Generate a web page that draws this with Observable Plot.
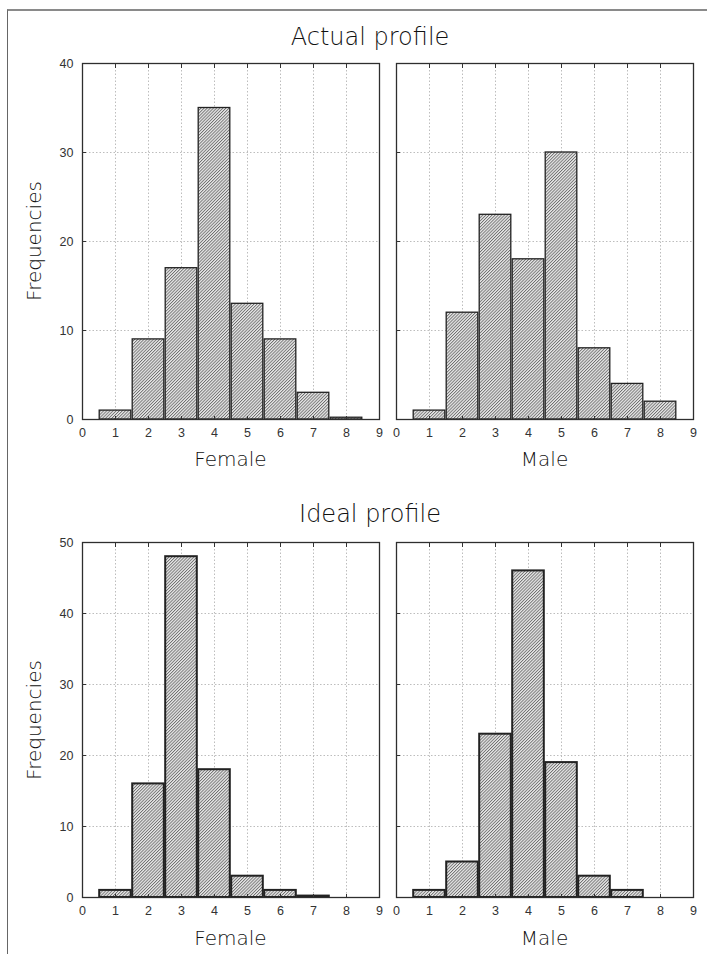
<!DOCTYPE html>
<html><head><meta charset="utf-8">
<script src="https://cdn.jsdelivr.net/npm/d3@7"></script>
<script src="https://cdn.jsdelivr.net/npm/@observablehq/plot@0.6"></script>
<style>
body{margin:0;background:#fff;}
#fig{position:relative;width:707px;height:954px;overflow:hidden;background:#fff;}
.lbl{position:absolute;transform:translate(-50%,-50%);white-space:nowrap;font-family:"DejaVu Sans",sans-serif;font-weight:300;color:#111;line-height:1;}
.rot{transform:translate(-50%,-50%) rotate(-90deg);}
.panel{position:absolute;}
.outer{position:absolute;left:7px;top:9px;width:760px;height:1000px;border-left:1.5px solid #666;border-top:2px solid #8a8a8a;}
</style></head><body>
<div id="fig">
<div class="outer"></div>
<svg width="0" height="0" style="position:absolute">
  <defs>
    <pattern id="hatch" patternUnits="userSpaceOnUse" width="2.2" height="2.2" patternTransform="rotate(45)">
      <rect x="0" y="0" width="2.2" height="2.2" fill="#e8e8e8"></rect>
      <line x1="0.45" y1="0" x2="0.45" y2="2.2" stroke="#6a6a6a" stroke-width="0.85"></line>
    </pattern>
  </defs>
</svg>
</div>
<script>
// ---- data ----
const bins = [1, 2, 3, 4, 5, 6, 7, 8];
const actualFemale = [1, 9, 17, 35, 13, 9, 3, 0.2];
const actualMale = [1, 12, 23, 18, 30, 8, 4, 2];
const idealFemale = [1, 16, 48, 18, 3, 1, 0.2, 0];
const idealMale = [1, 5, 23, 46, 19, 3, 1, 0];
const xTicks = [0, 1, 2, 3, 4, 5, 6, 7, 8, 9];
const yTicksActual = [0, 10, 20, 30, 40];
const yTicksIdeal = [0, 10, 20, 30, 40, 50];
const rowTitles = ["Actual profile", "Ideal profile"];
const groupLabels = ["Female", "Male"];
const yLabel = "Frequencies";

const fig = document.getElementById("fig");
const mL = 40, mR = 8, mT = 8, mB = 28;
const areaW = 297;

function panel(values, yTicks, showYLabels, strokeW, areaH) {
  const data = bins.map((b, i) => ({bin: b, n: values[i]})).filter(d => d.n > 0);
  const grid = {stroke: "#bdbdbd", strokeOpacity: 1, strokeWidth: 1, strokeDasharray: "1.5,2"};
  const marks = [
    Plot.gridX(xTicks.slice(1, -1), grid),
    Plot.gridY(yTicks.slice(1, -1), grid),
    Plot.rectY(data, {x1: d => d.bin - 0.5, x2: d => d.bin + 0.5, y: "n",
      fill: "url(#hatch)", stroke: "#222", strokeWidth: strokeW, insetLeft: 0.7, insetRight: 0.7}),
    Plot.frame({stroke: "#2e2e2e", strokeWidth: 1.3}),
    Plot.axisX(xTicks, {tickSize: 0, tickPadding: 9, label: null}),
    Plot.axisX(xTicks.slice(1, -1), {anchor: "top", tickSize: -4, tickFormat: () => "", label: null, stroke: "#333"}),
    Plot.axisX(xTicks.slice(1, -1), {anchor: "bottom", tickSize: -3, tickFormat: () => "", label: null, stroke: "#333"}),
    Plot.axisY(yTicks.slice(1, -1), {anchor: "left", tickSize: -4, tickFormat: () => "", label: null, stroke: "#333"})
  ];
  if (showYLabels) marks.push(Plot.axisY(yTicks, {anchor: "left", tickSize: 0, tickPadding: 9, label: null}));
  return Plot.plot({
    width: areaW + mL + mR, height: areaH + mT + mB,
    marginLeft: mL, marginRight: mR, marginTop: mT, marginBottom: mB,
    x: {domain: [xTicks[0], xTicks[xTicks.length - 1]], axis: null},
    y: {domain: [yTicks[0], yTicks[yTicks.length - 1]], axis: null},
    style: {fontFamily: '"Liberation Sans Narrow","Liberation Sans",sans-serif', fontSize: "12.5px", color: "#333", background: "transparent", overflow: "visible"},
    marks
  });
}

function place(el, left, top) {
  el.classList.add("panel");
  el.style.left = left + "px";
  el.style.top = top + "px";
  fig.appendChild(el);
}
function label(text, cx, cy, size, rot) {
  const d = document.createElement("div");
  d.className = "lbl" + (rot ? " rot" : "");
  d.textContent = text;
  d.style.left = cx + "px";
  d.style.top = cy + "px";
  d.style.fontSize = size + "px";
  fig.appendChild(d);
}

const rows = [
  {title: rowTitles[0], series: [actualFemale, actualMale], ticks: yTicksActual, top: 63, h: 356, sw: 1.3, titleY: 37, xlabY: 459},
  {title: rowTitles[1], series: [idealFemale, idealMale], ticks: yTicksIdeal, top: 542, h: 355, sw: 2, titleY: 514, xlabY: 938}
];
const lefts = [82, 396];
rows.forEach(r => {
  r.series.forEach((s, j) => {
    const p = panel(s, r.ticks, j === 0, r.sw, r.h);
    place(p, lefts[j] - mL, r.top - mT);
    label(groupLabels[j], lefts[j] + areaW / 2, r.xlabY, 20);
  });
  label(r.title, 370, r.titleY, 24);
  label(yLabel, 34, r.top + r.h / 2, 20, true);
});
</script>
</body></html>
